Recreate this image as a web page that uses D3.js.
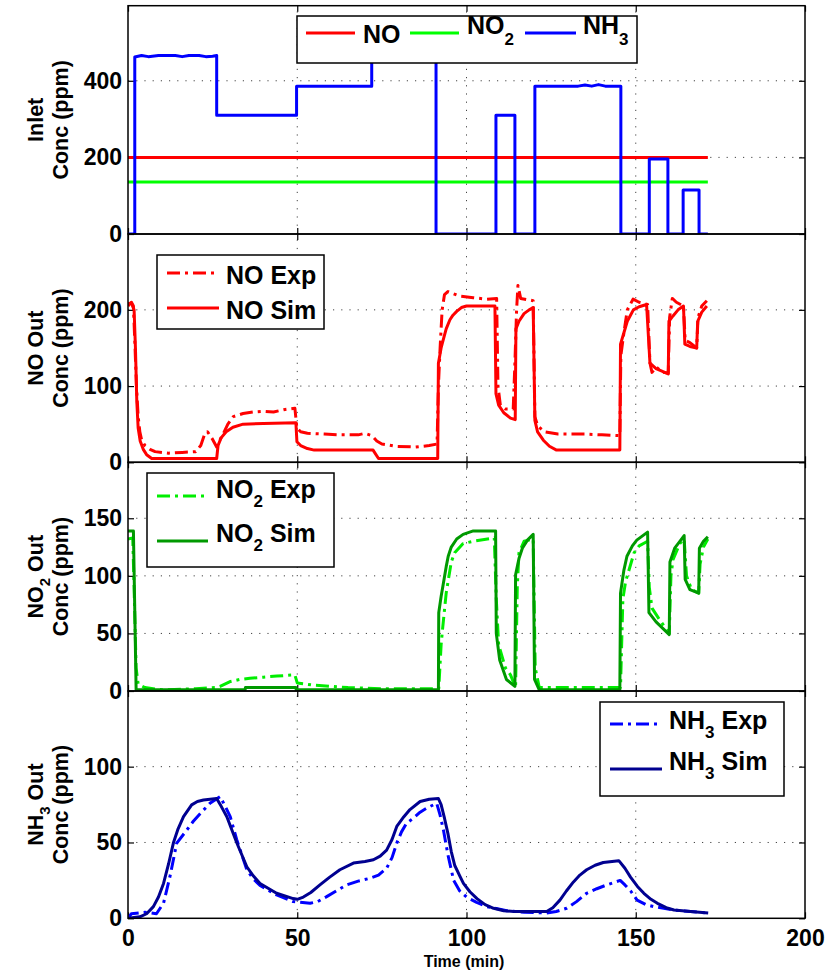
<!DOCTYPE html>
<html><head><meta charset="utf-8">
<script src="https://cdn.jsdelivr.net/npm/d3@7"></script>
<style>
body{margin:0;background:#fff}
svg{display:block}
text{font-family:"Liberation Sans",Arial,Helvetica,sans-serif;font-weight:bold;fill:#000}
</style>
</head><body><svg id="c" width="830" height="975"></svg>
<script>
// ---------------- data (time in min, concentration in ppm) ----------------
const timeTicks = [0, 50, 100, 150, 200];
const inletTicks = [0, 200, 400];
const noTicks = [0, 100, 200];
const no2Ticks = [0, 50, 100, 150];
const nh3Ticks = [0, 50, 100];

const inletNO = [[0,200],[171.3,200]];
const inletNO2 = [[0,136],[171.3,136]];
const inletNH3 = [[0,0],[2,0],[2,462],[4,466],[6,463],[9,466],[14,466],[16,463],[18,466],[21,466],[23,463],[25,464],[26.2,466],[26.2,310],[49.8,310],[49.8,386],[72,386],[72,465],[91,465],[91,0],[108.7,0],[108.7,310],[114.3,310],[114.3,0],[120.2,0],[120.2,386],[133,386],[135,389],[137,386],[139,390],[141,386],[145.6,386],[145.6,0],[154,0],[154,196],[159.5,196],[159.5,0],[164,0],[164,115],[168.7,115],[168.7,0],[171.3,0]];

const noSim = [[0,208],[1,209],[1.8,200],[2.2,150],[2.6,80],[3,45],[3.6,28],[4.5,17],[5.5,10],[7,5],[26.2,5],[26.6,22],[27.5,32],[29,40],[31,46],[34,50],[40,51],[49.6,52],[49.9,27],[51,22],[53,18],[55,16],[72.4,16],[74,5],[91.5,5],[91.7,130],[92.5,150],[93.2,162],[94,175],[95.1,187],[96,193],[97.1,198],[98.5,203],[100,205],[108.4,205],[108.7,90],[109.5,75],[111,65],[113,58],[114.4,56],[114.6,175],[115.5,185],[117,195],[118.5,200],[119.7,203],[120.2,55],[121,40],[122.7,29],[124.5,21],[126.6,16],[145.3,16],[145.5,155],[146.5,170],[147.5,185],[149.3,200],[151,204],[153.2,207],[154.2,130],[156,123],[159.6,116],[159.8,185],[161,192],[162.5,200],[164.1,205],[164.5,155],[166,152],[168,150],[168.3,185],[169.5,197],[171,205]];
const noExp = [[0,205],[1,210],[1.6,205],[2,160],[2.5,100],[3,60],[3.5,40],[4,30],[5,22],[6.5,17],[8,14],[12,12],[16,13],[20,14],[21.5,22],[22.5,35],[23.5,40],[25,30],[26.2,20],[27,28],[28.2,38],[29.5,50],[31.1,60],[34,64],[37,66],[40,67],[43,66],[46,69],[49.3,71],[49.9,45],[51,40],[53,38],[58,37],[63,36],[68,36],[70,38],[72,35],[73.5,28],[75,24],[79,21],[85,20],[89,22],[91.3,24],[91.7,100],[92.2,150],[92.8,200],[93.5,220],[94.5,224],[98,218],[102,216],[106,214],[108.9,215],[109.3,100],[110,75],[111.5,70],[113.8,70],[114.3,130],[114.8,200],[115.2,232],[116,215],[119.7,212],[120.2,60],[121,48],[123,40],[127,37],[135,37],[140,36],[145.3,35],[145.6,140],[146.5,170],[147.5,200],[149.2,214],[151,210],[153.5,207],[154.2,130],[154.8,118],[156,125],[158,118],[159.6,117],[160,190],[160.8,215],[162,210],[164.1,205],[164.6,160],[166,157],[168,150],[168.4,190],[169.5,205],[171,212]];

const no2Sim = [[0,139],[1.6,139],[2.4,1],[34.6,1],[34.7,3],[49.6,3],[49.7,1],[91.7,1],[91.8,68],[92.5,82],[93.2,94],[94,108],[94.6,117],[95.5,125],[97.1,132],[99,136],[102,139],[108.6,139],[108.8,50],[109.8,27],[111.8,10],[114.3,4],[114.5,101],[115.5,115],[116.5,124],[118,131],[119.7,136],[120.1,10],[121.5,1],[145.3,1],[145.5,85],[146.5,105],[147.4,117],[149,126],[150.3,131],[153.5,138],[153.9,68],[156,60],[159.9,49],[160.1,112],[161.5,124],[162.8,129],[164.3,135],[164.6,97],[166,88],[168.6,85],[168.8,124],[170,130],[171.3,134]];
const no2Exp = [[0,132],[1.4,133],[1.8,90],[2.4,20],[3,6],[5,3],[10,1],[20,2],[26,3],[27.2,4],[30,8],[33,10],[36,11],[40,12],[44,13],[49.3,14],[50,7],[55,5],[60,4],[65,3],[75,2],[91.8,2],[92.5,40],[93,56],[94,85],[95.5,112],[96.5,120],[99,128],[102,130],[108.2,133],[108.8,80],[109.5,40],[111.5,20],[113,14],[114.5,3],[115,90],[115.5,120],[117,130],[119.7,132],[120.3,20],[121.5,3],[130,3],[145.5,3],[146.2,80],[147,95],[149.5,120],[151,126],[153.5,130],[154,90],[154.8,72],[157,62],[159.9,50],[160.4,100],[161,114],[163,128],[164.3,132],[165,100],[166.5,88],[168.6,85],[169,110],[170,125],[171.3,132]];

const nh3Sim = [[0,0],[3.5,1],[5.5,3],[7.5,7.7],[9,14],[10.5,23],[12,36],[13.4,49.6],[14.8,59],[16.4,67],[18.8,74.8],[20.5,77],[22.3,78],[26.2,79],[27.5,74],[29.2,67],[32.1,50],[35.1,34],[37,28],[39,23],[43.9,16.5],[48.8,13],[50,12.5],[51.8,14],[54,17],[56.7,22],[59.5,27],[62.6,32],[66.6,36.4],[70,37.5],[72.5,38.6],[74.5,41],[76.4,45],[78,52],[79.4,60.6],[81.5,67],[83.3,71.7],[86.3,77],[89,78.5],[91.7,79],[92.5,75],[93.5,66],[94.5,56],[95.5,44],[96.5,35],[98,28],[99.1,23],[101,17.5],[103.1,13],[105.5,9],[108,6.6],[111,5],[114,4.5],[123.7,4.5],[125.5,7],[127.6,12],[129.5,18],[131.6,24],[133.5,28.5],[135.5,32],[138,35],[140.4,36.8],[143,37.5],[145,38],[146.8,33],[148.5,27],[150.5,21],[152.4,16.5],[154.5,12.5],[156.4,9.9],[159,7],[161.3,5.5],[166.2,4.5],[171.4,3.5]];
const nh3Exp = [[0,0],[1,3],[5,4],[8.4,3],[10.5,10],[12.4,27.6],[14.4,49.6],[17.3,58],[19.3,64],[21.3,69],[24.2,75.8],[27.2,80.3],[28.7,74],[30.2,67],[32.1,52],[35.1,32],[37,26],[39,21.7],[43.9,15.4],[48.8,11],[53.8,9.9],[56,11],[58.7,14.3],[61.5,18],[64.6,22],[68,24.5],[71.5,26.4],[74,28.5],[76.4,33],[78,40],[79.4,49.6],[80.8,57],[82.3,62.7],[84.3,66],[86.3,70],[88.5,73],[91.2,75.8],[92.2,68],[93.2,58],[94.5,42],[96.2,25],[98,18],[100,14],[103,10.5],[106,7.7],[111.9,5],[117,4],[123.7,3.5],[126.5,4.5],[129.6,6.6],[132.5,11],[135.5,16.5],[138.5,19.5],[141.4,22],[145.4,25],[146.8,22],[148.5,18],[150.4,12],[153,9],[155.4,7.7],[161,5.5],[171.4,3.5]];

// ---------------- drawing ----------------
const svg = d3.select("#c");
const x = d3.scaleLinear().domain([0, 200]).range([128, 805]);

const DASHDOT = "13,5,3,5";
const panels = [
  {top:5.7, bottom:234, ymax:596, ticks:inletTicks,
   label:[[{t:"Inlet"}],[{t:"Conc (ppm)"}]],
   series:[{d:inletNO,c:"#ff0000"},{d:inletNO2,c:"#00ff00"},{d:inletNH3,c:"#0000ff"}]},
  {top:234, bottom:462.3, ymax:299.5, ticks:noTicks,
   label:[[{t:"NO Out"}],[{t:"Conc (ppm)"}]],
   series:[{d:noExp,c:"#ff0000",dash:DASHDOT},{d:noSim,c:"#ff0000"}]},
  {top:462.3, bottom:691, ymax:198.6, ticks:no2Ticks,
   label:[[{t:"NO"},{t:"2",sub:1},{t:" Out"}],[{t:"Conc (ppm)"}]],
   series:[{d:no2Exp,c:"#00ee00",dash:DASHDOT},{d:no2Sim,c:"#009900"}]},
  {top:691, bottom:918.3, ymax:149.9, ticks:nh3Ticks,
   label:[[{t:"NH"},{t:"3",sub:1},{t:" Out"}],[{t:"Conc (ppm)"}]],
   series:[{d:nh3Exp,c:"#0000ff",dash:DASHDOT},{d:nh3Sim,c:"#000090"}]}
];

function addText(g, parts, xx, yy, size, anchor, subSize, subDy){
  const t = g.append("text").attr("x", xx).attr("y", yy)
    .attr("font-size", size).attr("text-anchor", anchor || "start");
  let shifted = false;
  parts.forEach(p => {
    const s = t.append("tspan").text(p.t);
    if (p.sub) { s.attr("font-size", subSize).attr("dy", subDy); shifted = true; }
    else if (shifted) { s.attr("dy", -subDy); shifted = false; }
  });
  return t;
}

const defs = svg.append("defs");
panels.forEach((p, i) => {
  const y = d3.scaleLinear().domain([0, p.ymax]).range([p.bottom, p.top]);
  const g = svg.append("g");
  defs.append("clipPath").attr("id", "clip" + i).append("rect")
    .attr("x", x(0)).attr("y", p.top).attr("width", x(200) - x(0)).attr("height", p.bottom - p.top);
  // grid
  const grid = g.append("g").attr("stroke", "#444").attr("stroke-width", 1).attr("stroke-dasharray", "1.2,7");
  timeTicks.filter(v => v > 0 && v < 200).forEach(v => {
    grid.append("line").attr("x1", x(v)).attr("x2", x(v)).attr("y1", p.bottom).attr("y2", p.top);
  });
  p.ticks.filter(v => v > 0).forEach(v => {
    grid.append("line").attr("x1", x(0)).attr("x2", x(200)).attr("y1", y(v)).attr("y2", y(v));
  });
  // axes (ticks inward, on all sides)
  const axL = d3.axisLeft(y).tickValues(p.ticks).tickSize(-6).tickPadding(8).tickFormat(d3.format("d"));
  const axR = d3.axisRight(y).tickValues(p.ticks).tickSize(-6).tickFormat("");
  const axT = d3.axisTop(x).tickValues(timeTicks).tickSize(-6).tickFormat("");
  const axB = d3.axisBottom(x).tickValues(timeTicks).tickSize(-6).tickFormat(i === 3 ? d3.format("d") : "").tickPadding(11);
  const gl = g.append("g").attr("transform", `translate(${x(0)},0)`).call(axL);
  g.append("g").attr("transform", `translate(${x(200)},0)`).call(axR);
  g.append("g").attr("transform", `translate(0,${p.top})`).call(axT);
  const gb = g.append("g").attr("transform", `translate(0,${p.bottom})`).call(axB);
  [gl, gb].forEach(a => a.selectAll("text").attr("font-size", 23).attr("font-family", null));
  gl.selectAll("text").attr("x", -6);
  g.selectAll(".domain").remove();
  g.selectAll(".tick line").attr("stroke", "#000").attr("stroke-width", 1.2);
  // series
  const line = d3.line().x(d => x(d[0])).y(d => y(d[1]));
  const sg = g.append("g").attr("clip-path", `url(#clip${i})`);
  p.series.forEach(s => {
    sg.append("path").datum(s.d).attr("d", line).attr("fill", "none")
      .attr("stroke", s.c).attr("stroke-width", 3).attr("stroke-linejoin", "round")
      .attr("stroke-dasharray", s.dash || null);
  });
  // frame
  g.append("rect").attr("x", x(0)).attr("y", p.top).attr("width", x(200) - x(0)).attr("height", p.bottom - p.top)
    .attr("fill", "none").attr("stroke", "#000").attr("stroke-width", 1.5);
  // y label
  const cy = (p.top + p.bottom) / 2;
  [[43, p.label[0]], [68, p.label[1]]].forEach(([lx, parts]) => {
    const lg = svg.append("g").attr("transform", `translate(${lx},${cy}) rotate(-90)`);
    addText(lg, parts, 0, 0, 21.5, "middle", 15, 7);
  });
});
// x label
svg.append("text").attr("x", 464).attr("y", 967).attr("font-size", 16).attr("text-anchor", "middle").text("Time (min)");

// ---------------- legends ----------------
function legendBox(bx, by, bw, bh){
  svg.append("rect").attr("x", bx).attr("y", by).attr("width", bw).attr("height", bh)
    .attr("fill", "#fff").attr("stroke", "#000").attr("stroke-width", 1.5);
}
function legendLine(x1, x2, ly, c, dash){
  svg.append("line").attr("x1", x1).attr("x2", x2).attr("y1", ly).attr("y2", ly)
    .attr("stroke", c).attr("stroke-width", 3).attr("stroke-dasharray", dash || null);
}
// panel 1
legendBox(297, 16, 340, 47);
legendLine(306, 355, 33, "#ff0000");
addText(svg, [{t:"NO"}], 363, 43, 25, "start", 17, 11);
legendLine(410, 459, 33, "#00ff00");
addText(svg, [{t:"NO"},{t:"2",sub:1}], 467, 34, 25, "start", 17, 11);
legendLine(525, 576, 33, "#0000ff");
addText(svg, [{t:"NH"},{t:"3",sub:1}], 583, 34, 25, "start", 17, 11);
// panel 2
legendBox(157, 255, 167, 74);
legendLine(167, 219, 273, "#ff0000", DASHDOT);
addText(svg, [{t:"NO Exp"}], 226, 284, 25, "start");
legendLine(167, 219, 308, "#ff0000");
addText(svg, [{t:"NO Sim"}], 226, 318.5, 25, "start");
// panel 3
legendBox(147, 473, 187, 94);
legendLine(157, 208, 496, "#00ee00", DASHDOT);
addText(svg, [{t:"NO"},{t:"2",sub:1},{t:" Exp"}], 216, 498, 25, "start", 17, 9);
legendLine(157, 208, 541, "#009900");
addText(svg, [{t:"NO"},{t:"2",sub:1},{t:" Sim"}], 216, 542, 25, "start", 17, 9);
// panel 4
legendBox(600, 702, 184, 94);
legendLine(610, 662, 724, "#0000ff", DASHDOT);
addText(svg, [{t:"NH"},{t:"3",sub:1},{t:" Exp"}], 669, 729, 25, "start", 17, 9);
legendLine(610, 662, 769, "#000090");
addText(svg, [{t:"NH"},{t:"3",sub:1},{t:" Sim"}], 669, 770, 25, "start", 17, 9);
</script>
</body></html>
